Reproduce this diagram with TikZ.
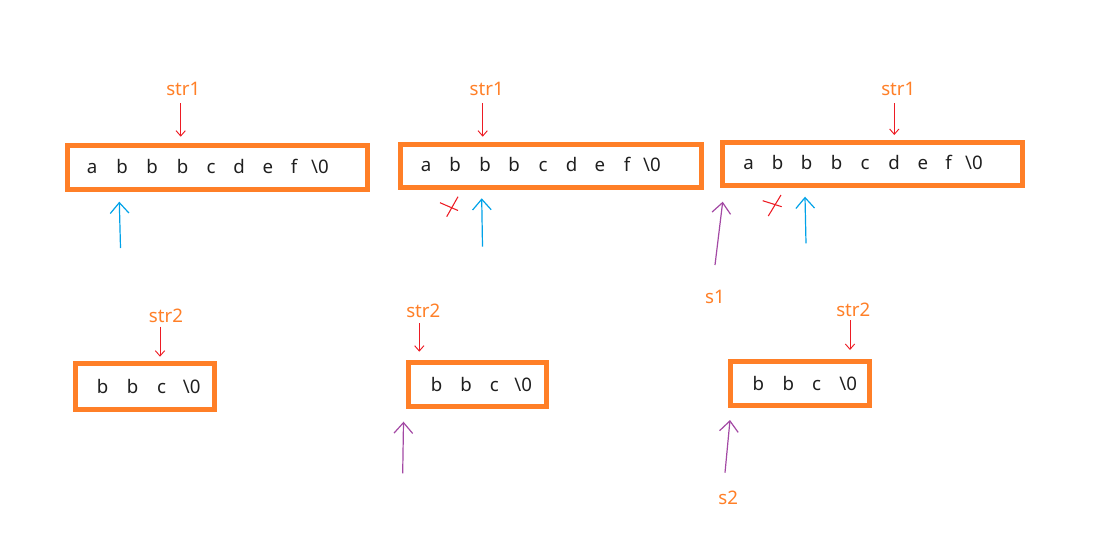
\documentclass[tikz,border=0pt]{standalone}
\usepackage{fontspec}
\setmainfont{Noto Sans}
\usetikzlibrary{arrows.meta,fit}
\definecolor{orng}{RGB}{255,127,39}
\definecolor{redp}{RGB}{237,28,36}
\definecolor{bluep}{RGB}{0,162,232}
\definecolor{purp}{RGB}{163,73,164}
\begin{document}
\begin{tikzpicture}[x=0.75pt,y=-0.75pt,
  box/.style={draw=orng, line width=3.75pt, inner sep=0pt},
  ch/.style={anchor=base, font=\fontsize{14}{16}\selectfont, inner sep=0pt, text=black!88},
  lab/.style={text=orng, font=\fontsize{14}{16}\selectfont, inner sep=0pt},
  redarr/.style={draw=redp, line width=0.7pt, -{Straight Barb[length=4pt,width=7pt]}},
  bluearr/.style={draw=bluep, line width=0.9pt, -{Straight Barb[length=8pt,width=14pt]}},
  purarr/.style={draw=purp, line width=0.9pt, -{Straight Barb[length=8pt,width=14pt]}},
  xmark/.style={draw=redp, line width=0.8pt}]
\useasboundingbox (0,0) rectangle (1104,547);

% ---------- top boxes ----------
\node[box, fit={(67.5,145.5) (367.5,189)}] (B1) {};
\node[box, fit={(400,144) (701,187.5)}] (B2) {};
\node[box, fit={(722.5,142) (1022.5,185.8)}] (B3) {};

\foreach \x/\c [count=\i] in {92/a,122/b,152/b,182.5/b,211/c,239/d,268/e,294/f,320/{\textbackslash 0}}
  \node[ch] (Pa\i) at (\x,173.3) {\c};
\foreach \x/\c [count=\i] in {426/a,455/b,485/b,514/b,543/c,571.5/d,600/e,627/f,652/{\textbackslash 0}}
  \node[ch] (Pb\i) at (\x,171.7) {\c};
\foreach \x/\c [count=\i] in {748.5/a,777.5/b,806.5/b,836.5/b,865/c,894/d,923/e,948.5/f,974/{\textbackslash 0}}
  \node[ch] (Pc\i) at (\x,169.3) {\c};

% ---------- bottom boxes ----------
\node[box, fit={(75,363.8) (214,409)}] (B4) {};
\node[box, fit={(408,362) (546,406.7)}] (B5) {};
\node[box, fit={(730,361) (869,405)}] (B6) {};

\foreach \x/\c [count=\i] in {102.7/b,132.7/b,161.7/c,191.7/{\textbackslash 0}}
  \node[ch] (Qa\i) at (\x,393.3) {\c};
\foreach \x/\c [count=\i] in {436.7/b,466/b,494.3/c,523.3/{\textbackslash 0}}
  \node[ch] (Qb\i) at (\x,391.7) {\c};
\foreach \x/\c [count=\i] in {758.3/b,788.3/b,816.7/c,848.3/{\textbackslash 0}}
  \node[ch] (Qc\i) at (\x,390) {\c};

% ---------- labels ----------
\node[lab] (L1) at (183.3,89) {str1};
\node[lab] (L2) at (486.7,89) {str1};
\node[lab] (L3) at (898.3,89) {str1};
\node[lab] (L4) at (166,316) {str2};
\node[lab] (L5) at (423.3,311) {str2};
\node[lab] (L6) at (853.3,309.5) {str2};
\node[lab] (S1) at (715,296.7) {s1};
\node[lab] (S2) at (728.3,498.3) {s2};

% ---------- red arrows (from labels) ----------
\coordinate (r1) at (180.7,136.7);
\coordinate (r2) at (482.7,136.7);
\coordinate (r3) at (894.3,135);
\coordinate (r4) at (160,356.7);
\coordinate (r5) at (419.3,351.7);
\coordinate (r6) at (850,350);
\draw[redarr] (180.7,103) -- (r1);
\draw[redarr] (482.7,103) -- (r2);
\draw[redarr] (894.3,103) -- (r3);
\draw[redarr] (160,326.7) -- (r4);
\draw[redarr] (419.3,323.3) -- (r5);
\draw[redarr] (850,320) -- (r6);

% ---------- blue arrows ----------
\coordinate (b1s) at (120.5,248);  \coordinate (b1e) at (119.3,201.7);
\coordinate (b2s) at (482.5,246.7); \coordinate (b2e) at (481.7,198.3);
\coordinate (b3s) at (806,243.3);  \coordinate (b3e) at (805,196.7);
\draw[bluearr] (b1s) -- (b1e);
\draw[bluearr] (b2s) -- (b2e);
\draw[bluearr] (b3s) -- (b3e);

% ---------- purple arrows ----------
\coordinate (p1s) at (715,265);    \coordinate (p1e) at (722.7,201.7);
\coordinate (p2s) at (402.7,473.3); \coordinate (p2e) at (403.5,421.7);
\coordinate (p3s) at (725,472.7);  \coordinate (p3e) at (730,420);
\draw[purarr] (p1s) -- (p1e);
\draw[purarr] (p2s) -- (p2e);
\draw[purarr] (p3s) -- (p3e);

% ---------- red crosses ----------
\draw[xmark] (440,202.7) -- (458,210.5);
\draw[xmark] (458,196.7) -- (446.7,216.7);
\draw[xmark] (762.7,200.7) -- (781.7,206.7);
\draw[xmark] (781,195) -- (768.3,216);
\end{tikzpicture}
\end{document}
